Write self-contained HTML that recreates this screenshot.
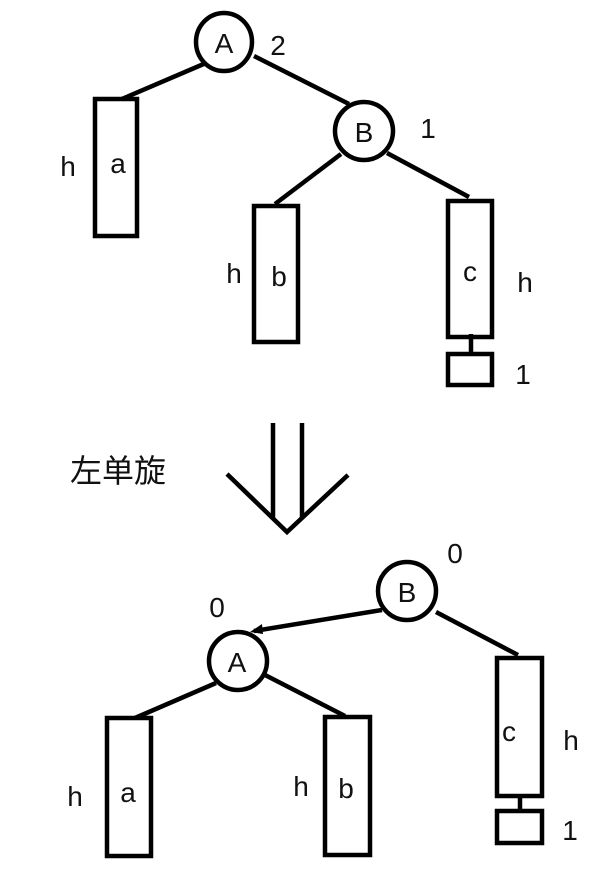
<!DOCTYPE html>
<html><head><meta charset="utf-8"><style>
html,body{margin:0;padding:0;background:#fff;}
svg{display:block;}
text{font-family:"Liberation Sans","DejaVu Sans",sans-serif;font-size:28px;fill:#111;}
.cj{font-family:"Liberation Sans","Noto Sans CJK SC",sans-serif;font-size:32px;}
</style></head><body>
<svg width="614" height="888" viewBox="0 0 614 888" xmlns="http://www.w3.org/2000/svg">
<g stroke="#000" stroke-width="4.5" fill="none">
<ellipse cx="224" cy="42" rx="28" ry="29"/>
<line x1="206" y1="63" x2="122" y2="99"/>
<rect x="95" y="99" width="42" height="137"/>
<line x1="254" y1="56" x2="349" y2="104"/>
<ellipse cx="364" cy="131" rx="29" ry="29"/>
<line x1="341" y1="154" x2="275" y2="204"/>
<rect x="254" y="206" width="44" height="136"/>
<line x1="387" y1="153" x2="469" y2="197"/>
<rect x="448" y="201" width="44" height="136"/>
<line x1="471" y1="334" x2="471" y2="354"/>
<rect x="448" y="354" width="44" height="31"/>
<line x1="273" y1="423" x2="273" y2="518"/>
<line x1="302" y1="423" x2="302" y2="518"/>
<polyline points="227,474 287,532 348,475"/>
<ellipse cx="407" cy="591" rx="29" ry="29"/>
<line x1="382" y1="610" x2="254" y2="631"/>
<ellipse cx="238" cy="661" rx="29" ry="29"/>
<line x1="216" y1="683" x2="135" y2="718"/>
<rect x="107" y="718" width="44" height="138"/>
<line x1="265" y1="675" x2="345" y2="716"/>
<rect x="325" y="717" width="45" height="138"/>
<line x1="436" y1="612" x2="518" y2="655"/>
<rect x="497" y="658" width="45" height="138"/>
<line x1="520" y1="794" x2="520" y2="811"/>
<rect x="497" y="811" width="45" height="32"/>
</g>
<polygon points="250,632 262,624 263,634" fill="#000"/>
<g text-anchor="middle">
<text x="224" y="53">A</text>
<text x="278" y="55">2</text>
<text x="118" y="173">a</text>
<text x="68" y="176">h</text>
<text x="364" y="142">B</text>
<text x="428" y="138">1</text>
<text x="234" y="283">h</text>
<text x="279" y="286">b</text>
<text x="470" y="281">c</text>
<text x="525" y="292">h</text>
<text x="523" y="384">1</text>
<text x="407" y="602">B</text>
<text x="455" y="563">0</text>
<text x="217" y="617">0</text>
<text x="237" y="672">A</text>
<text x="128" y="802">a</text>
<text x="75" y="806">h</text>
<text x="301" y="796">h</text>
<text x="346" y="798">b</text>
<text x="509" y="741">c</text>
<text x="571" y="750">h</text>
<text x="570" y="840">1</text>
</g>
<text class="cj" x="70" y="482">左单旋</text>
</svg>
</body></html>
